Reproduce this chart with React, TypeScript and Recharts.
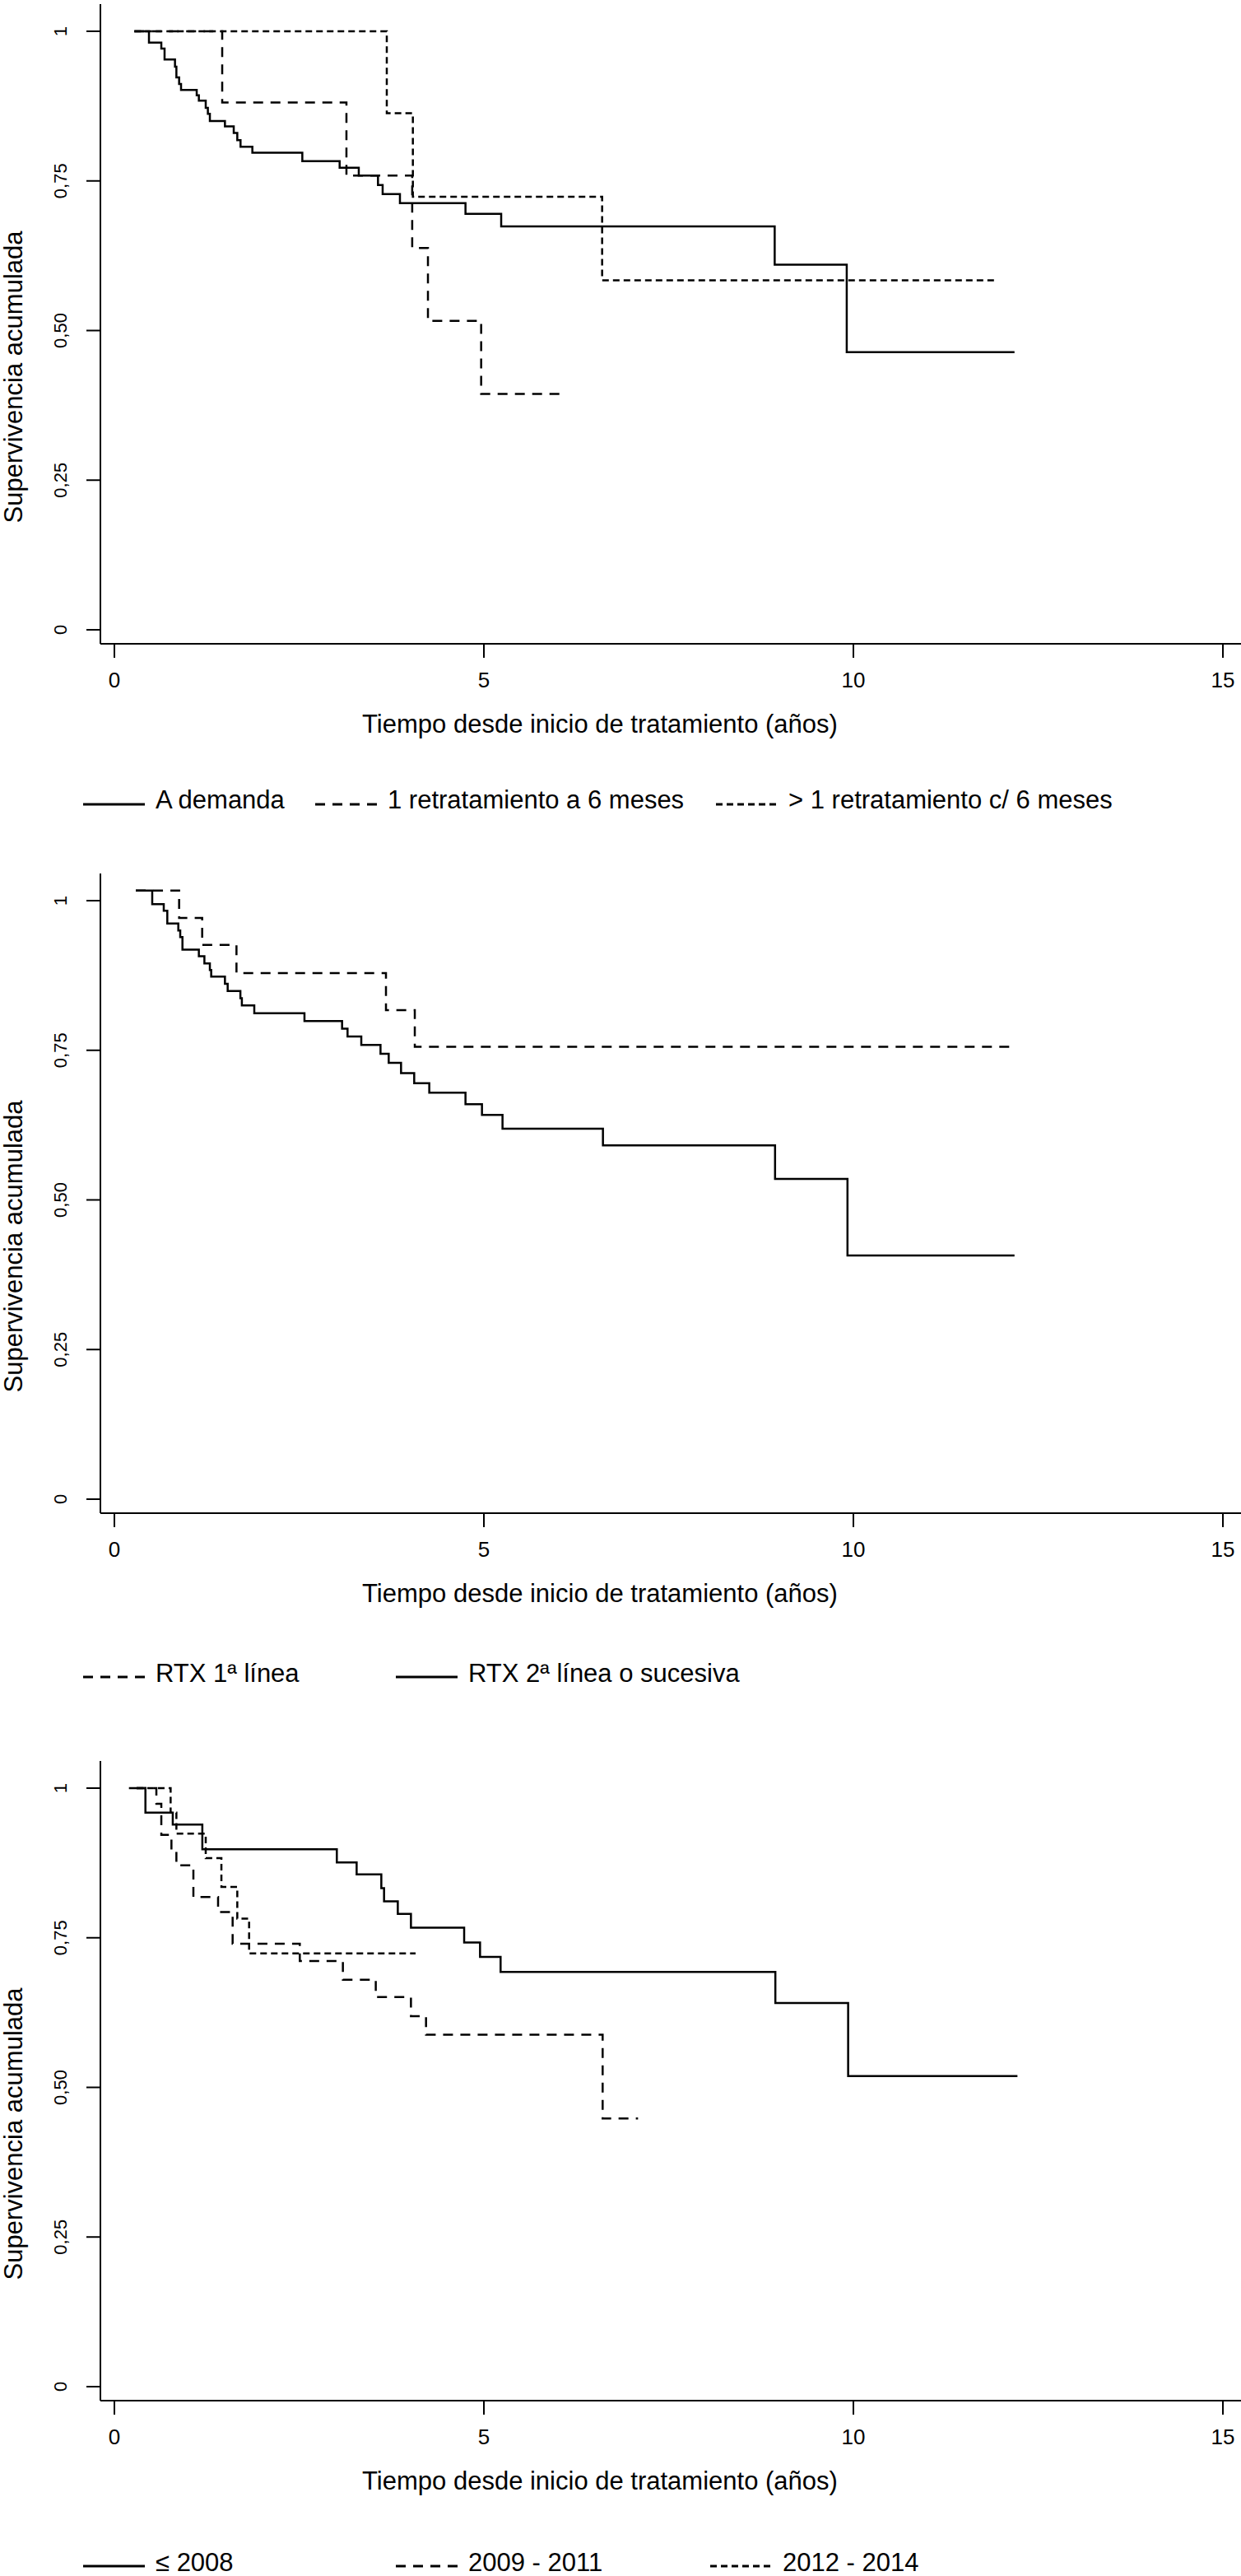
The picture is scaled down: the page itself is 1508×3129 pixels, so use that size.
import React from 'react';
import { LineChart, Line, XAxis, YAxis, Legend } from 'recharts';

// ---------- Panel 1: tipo de mantenimiento ----------
const p1DemandaT = [0.27, 0.468, 0.635, 0.679, 0.82, 0.839, 0.876, 0.902, 1.114, 1.143, 1.236, 1.265, 1.292, 1.496, 1.615, 1.663, 1.707, 1.867, 2.543, 3.048, 3.307, 3.567, 3.63, 3.864, 4.751, 5.234, 8.935, 9.91, 12.18];
const p1DemandaS = [1.0, 0.981, 0.971, 0.953, 0.941, 0.923, 0.912, 0.902, 0.893, 0.884, 0.872, 0.862, 0.85, 0.841, 0.83, 0.818, 0.807, 0.797, 0.783, 0.772, 0.759, 0.743, 0.728, 0.713, 0.695, 0.674, 0.61, 0.464, 0.464];
const p1UnoT = [0.27, 1.459, 3.14, 4.03, 4.243, 4.963, 6.03];
const p1UnoS = [1.0, 0.881, 0.759, 0.638, 0.516, 0.394, 0.394];
const p1MasT = [0.27, 3.686, 4.039, 6.6, 11.92];
const p1MasS = [1.0, 0.863, 0.7235, 0.584, 0.584];

// ---------- Panel 2: línea de tratamiento ----------
const p2PrimeraT = [0.29, 0.876, 1.188, 1.652, 3.675, 4.065, 12.17];
const p2PrimeraS = [1.017, 0.971, 0.926, 0.879, 0.817, 0.756, 0.756];
const p2SegundaT = [0.29, 0.512, 0.668, 0.716, 0.865, 0.891, 0.921, 1.143, 1.218, 1.292, 1.31, 1.496, 1.533, 1.705, 1.725, 1.893, 2.572, 3.081, 3.155, 3.341, 3.601, 3.712, 3.879, 4.057, 4.261, 4.751, 4.974, 5.252, 6.611, 8.94, 9.92, 12.18];
const p2SegundaS = [1.017, 0.994, 0.983, 0.962, 0.95, 0.939, 0.918, 0.907, 0.895, 0.884, 0.873, 0.861, 0.849, 0.837, 0.825, 0.812, 0.799, 0.786, 0.773, 0.759, 0.744, 0.729, 0.712, 0.695, 0.679, 0.66, 0.642, 0.619, 0.591, 0.535, 0.407, 0.407];

// ---------- Panel 3: periodo ----------
const p3Hasta2008T = [0.197, 0.42, 0.79, 1.19, 3.01, 3.278, 3.612, 3.649, 3.835, 4.013, 4.733, 4.948, 5.226, 8.944, 9.929, 12.22];
const p3Hasta2008S = [1.0, 0.959, 0.939, 0.898, 0.876, 0.856, 0.833, 0.811, 0.79, 0.767, 0.742, 0.718, 0.693, 0.641, 0.519, 0.519];
const p3P0911T = [0.3, 0.568, 0.635, 0.772, 0.839, 1.069, 1.403, 1.6, 2.509, 3.092, 3.537, 4.013, 4.217, 6.607, 7.086];
const p3P0911S = [1.0, 0.974, 0.922, 0.895, 0.871, 0.818, 0.793, 0.74, 0.711, 0.68, 0.651, 0.619, 0.588, 0.448, 0.448];
const p3P1214T = [0.3, 0.761, 0.839, 1.236, 1.448, 1.663, 1.823, 4.076];
const p3P1214S = [1.0, 0.959, 0.924, 0.883, 0.835, 0.782, 0.724, 0.724];

// ---------- Axes / texts ----------
const xTicks = [0, 5, 10, 15];
const xTickLabels = ['0', '5', '10', '15'];
const yTicks = [0, 0.25, 0.5, 0.75, 1];
const yTickLabels = ['0', '0,25', '0,50', '0,75', '1'];
const xTitle = 'Tiempo desde inicio de tratamiento (años)';
const yTitle = 'Supervivencia acumulada';

const p1Names = ['A demanda', '1 retratamiento a 6 meses', '> 1 retratamiento c/ 6 meses'];
const p2Names = ['RTX 1ª línea', 'RTX 2ª línea o sucesiva'];
const p3Names = ['≤ 2008', '2009 - 2011', '2012 - 2014'];

// ---------- styling ----------
const FONT = '"Liberation Sans", Arial, Helvetica, sans-serif';
const LONG = '12 9';
const SHORT = '8 5';
const X_DOMAIN: [number, number] = [-0.1893, 15.245];
const Y_DOMAIN: [number, number] = [-0.0234, 1.0454];
const AXIS_Y = 782;

type Pt = { t: number; s: number };
type Series = { name: string; data: Pt[]; dash?: string };

const zip = (t: number[], s: number[]): Pt[] => t.map((v, i) => ({ t: v, s: s[i] }));

const panels = [
  {
    top: 0,
    height: 1056,
    legendX: [101, 383, 870],
    legendBase: 982,
    legendLine: 977,
    series: [
      { name: p1Names[0], data: zip(p1DemandaT, p1DemandaS) },
      { name: p1Names[1], data: zip(p1UnoT, p1UnoS), dash: LONG },
      { name: p1Names[2], data: zip(p1MasT, p1MasS), dash: SHORT },
    ] as Series[],
  },
  {
    top: 1056,
    height: 1078,
    legendX: [101, 481],
    legendBase: 987,
    legendLine: 981,
    series: [
      { name: p2Names[0], data: zip(p2PrimeraT, p2PrimeraS), dash: LONG },
      { name: p2Names[1], data: zip(p2SegundaT, p2SegundaS) },
    ] as Series[],
  },
  {
    top: 2134,
    height: 995,
    legendX: [101, 481, 863],
    legendBase: 989,
    legendLine: 983,
    series: [
      { name: p3Names[0], data: zip(p3Hasta2008T, p3Hasta2008S) },
      { name: p3Names[1], data: zip(p3P0911T, p3P0911S), dash: LONG },
      { name: p3Names[2], data: zip(p3P1214T, p3P1214S), dash: SHORT },
    ] as Series[],
  },
];

const XTick = (props: any) => {
  const { x, y, payload } = props;
  const idx = xTicks.indexOf(payload.value);
  return (
    <text x={x} y={y + 34} textAnchor="middle" fontSize={26} fontFamily={FONT} fill="#000">
      {idx >= 0 ? xTickLabels[idx] : String(payload.value)}
    </text>
  );
};

const YTick = (props: any) => {
  const { x, y, payload } = props;
  const idx = yTicks.indexOf(payload.value);
  return (
    <text
      transform={`translate(${x - 22},${y}) rotate(-90)`}
      textAnchor="middle"
      fontSize={22}
      fontFamily={FONT}
      fill="#000"
    >
      {idx >= 0 ? yTickLabels[idx] : String(payload.value)}
    </text>
  );
};

const XTitle = () => (
  <text x={729} y={890} textAnchor="middle" fontSize={31} fontFamily={FONT} fill="#000">
    {xTitle}
  </text>
);

const YTitle = () => (
  <text transform="translate(27,458) rotate(-90)" textAnchor="middle" fontSize={31} fontFamily={FONT} fill="#000">
    {yTitle}
  </text>
);

function Panel(p: (typeof panels)[number]) {
  const legendTop = p.legendBase - 30;
  const order = p.series.map((s) => s.name);
  const renderLegend = (props: any) => {
    const payload = [...(props.payload || [])].sort(
      (a: any, b: any) => order.indexOf(a.value) - order.indexOf(b.value)
    );
    return (
      <svg width={1508} height={44} style={{ display: 'block', overflow: 'visible' }}>
        {payload.map((e: any, i: number) => {
          const x0 = p.legendX[i] ?? 101;
          const s = p.series.find((ss) => ss.name === e.value);
          return (
            <g key={i}>
              <line
                x1={x0}
                x2={x0 + 75}
                y1={p.legendLine - legendTop}
                y2={p.legendLine - legendTop}
                stroke="#000"
                strokeWidth={3}
                strokeDasharray={s?.dash}
              />
              <text x={x0 + 88} y={30} fontSize={31} fontFamily={FONT} fill="#000">
                {e.value}
              </text>
            </g>
          );
        })}
      </svg>
    );
  };

  return (
    <div style={{ position: 'absolute', left: 0, top: p.top }}>
      <LineChart width={1508} height={p.height} margin={{ top: 5, right: 0, bottom: 0, left: 0 }}>
        <XAxis
          type="number"
          dataKey="t"
          domain={X_DOMAIN}
          allowDataOverflow
          ticks={xTicks}
          interval={0}
          tick={<XTick />}
          tickSize={17}
          height={p.height - AXIS_Y}
          axisLine={{ stroke: '#000', strokeWidth: 2 }}
          tickLine={{ stroke: '#000', strokeWidth: 2 }}
          label={<XTitle />}
        />
        <YAxis
          type="number"
          dataKey="s"
          domain={Y_DOMAIN}
          allowDataOverflow
          ticks={yTicks}
          interval={0}
          width={122}
          tick={<YTick />}
          tickSize={17}
          axisLine={{ stroke: '#000', strokeWidth: 2 }}
          tickLine={{ stroke: '#000', strokeWidth: 2 }}
          label={<YTitle />}
        />
        <Legend
          layout="horizontal"
          verticalAlign="middle"
          align="center"
          itemSorter={null as any}
          wrapperStyle={{ position: 'absolute', left: 0, top: legendTop, width: 1508, height: 44 }}
          content={renderLegend}
        />
        {p.series.map((s) => (
          <Line
            key={s.name}
            name={s.name}
            data={s.data}
            dataKey="s"
            type="stepAfter"
            stroke="#000"
            strokeWidth={2.5}
            strokeDasharray={s.dash}
            dot={false}
            activeDot={false}
            legendType="line"
            isAnimationActive={false}
          />
        ))}
      </LineChart>
    </div>
  );
}

export default function App() {
  return (
    <div style={{ position: 'absolute', left: 0, top: 0, width: 1508, height: 3129, background: '#fff', fontFamily: FONT }}>
      {panels.map((p, i) => (
        <Panel key={i} {...p} />
      ))}
    </div>
  );
}
